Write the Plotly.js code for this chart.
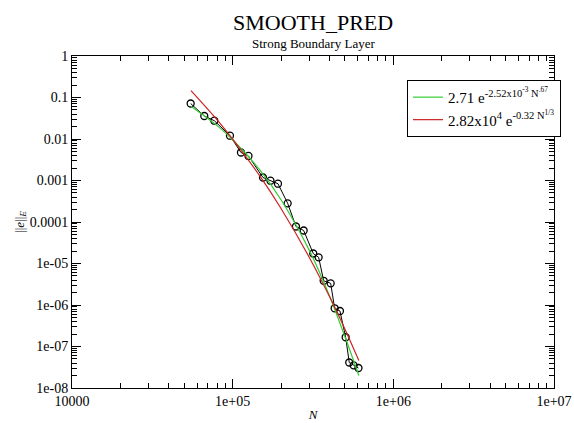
<!DOCTYPE html>
<html>
<head>
<meta charset="utf-8">
<script src="https://cdn.plot.ly/plotly-3.0.1.min.js"></script>
<style>html,body{margin:0;padding:0;background:#fff;}#chart{width:574px;height:423px;}</style>
</head>
<body>
<div id="chart"></div>
<script>
// Data
var dataN = [54780, 66580, 76850, 96200, 112600, 125400, 154400, 171900, 191400, 219900,
             247700, 276600, 317300, 342800, 368400, 407300, 431200, 465300, 505000, 531600,
             566200, 606600];
var dataErr = [0.0717, 0.0358, 0.0276, 0.0120, 0.00473, 0.00390, 0.00118, 0.000989, 0.000837, 0.000282,
               7.79e-5, 6.24e-5, 1.74e-5, 1.41e-5, 3.83e-6, 3.33e-6, 8.33e-7, 7.17e-7, 1.67e-7, 4.12e-8,
               3.52e-8, 3.03e-8];

// Fit curves, values
var fitN = [55000, 80000, 100000, 150000, 200000, 300000, 400000, 500000, 610000];
var greenFit = [0.0618, 0.0210, 0.00961, 1.66e-3, 3.43e-4, 2.07e-5, 1.68e-6, 1.71e-7, 2.0e-8];
var redFit = [0.146, 0.0289, 0.00996, 1.17e-3, 2.11e-4, 1.40e-5, 1.62e-6, 2.62e-7, 4.6e-8];

var greenName = "2.71 e<sup>-2.52x10<sup>-3</sup> N<sup>.67</sup></sup>";
var redName = "2.82x10<sup>4</sup> e<sup>-0.32 N<sup>1/3</sup></sup>";

var titleText = "SMOOTH_PRED";
var subtitleText = "Strong Boundary Layer";

// Tick labels
var xTickVals = [10000, 100000, 1000000, 10000000];
var xTickText = ["10000", "1e+05", "1e+06", "1e+07"];
var yTickVals = [1, 0.1, 0.01, 0.001, 0.0001, 1e-5, 1e-6, 1e-7, 1e-8];
var yTickText = ["1", "0.1", "0.01", "0.001", "0.0001", "1e-05", "1e-06", "1e-07", "1e-08"];

// minor tick positions (2..9 in each decade)
function minorVals(lo, hi) {
  var v = [];
  for (var e = lo; e < hi; e++) for (var m = 2; m <= 9; m++) v.push(m * Math.pow(10, e));
  return v;
}
var xMinor = minorVals(4, 7);
var yMinor = minorVals(-8, 0);

var serif = "'Liberation Serif', 'DejaVu Serif', serif";

var traces = [
  {x: dataN, y: dataErr, mode: "lines+markers", showlegend: false,
   line: {color: "#000", width: 1},
   marker: {symbol: "circle-open", size: 7, color: "#000", line: {width: 1.3, color: "#000"}}},
  {x: fitN, y: greenFit, mode: "lines", name: greenName,
   line: {color: "#33cc33", width: 1.2, shape: "spline"}},
  {x: fitN, y: redFit, mode: "lines", name: redName,
   line: {color: "#cc2222", width: 1.2, shape: "spline"}},
  {x: [dataN[0]], y: [dataErr[0]], xaxis: "x2", yaxis: "y2", mode: "markers",
   marker: {opacity: 0}, showlegend: false, hoverinfo: "skip"}
];

var axisCommon = {
  type: "log", showline: true, linecolor: "#000", linewidth: 1, mirror: "ticks",
  ticks: "inside", ticklen: 9, tickwidth: 1, tickcolor: "#000",
  showgrid: false, zeroline: false,
  tickfont: {family: serif, size: 14, color: "#000"}
};
var minorCommon = {
  type: "log", showline: false, mirror: "ticks", ticks: "inside", ticklen: 5, tickwidth: 1,
  tickcolor: "#000", showgrid: false, zeroline: false, showticklabels: false, tickmode: "array"
};

var layout = {
  width: 574, height: 423,
  paper_bgcolor: "#fff", plot_bgcolor: "#fff",
  font: {family: serif, color: "#000"},
  margin: {l: 72, r: 20, t: 56, b: 35},
  xaxis: Object.assign({}, axisCommon, {
    range: [4, 7], tickmode: "array", tickvals: xTickVals, ticktext: xTickText,
    title: {text: "<i>N</i>", font: {family: serif, size: 13, color: "#000"}, standoff: 2}
  }),
  yaxis: Object.assign({}, axisCommon, {
    range: [-8, 0], tickmode: "array", tickvals: yTickVals, ticktext: yTickText,
    title: {text: "||<i>e</i>||<sub><i>E</i></sub>", font: {family: serif, size: 13, color: "#000"}, standoff: 2}
  }),
  xaxis2: Object.assign({}, minorCommon, {overlaying: "x", range: [4, 7], tickvals: xMinor, anchor: "y2"}),
  yaxis2: Object.assign({}, minorCommon, {overlaying: "y", range: [-8, 0], tickvals: yMinor, anchor: "x2"}),
  legend: {x: 0.695, y: 0.928, xanchor: "left", yanchor: "top",
           bgcolor: "#fff", bordercolor: "#000", borderwidth: 1,
           font: {family: serif, size: 15, color: "#000"}},
  annotations: [
    {text: titleText, xref: "paper", yref: "paper", x: 0.5, y: 1.102, xanchor: "center", yanchor: "middle",
     showarrow: false, font: {family: serif, size: 22, color: "#000"}},
    {text: subtitleText, xref: "paper", yref: "paper", x: 0.5, y: 1.039, xanchor: "center", yanchor: "middle",
     showarrow: false, font: {family: serif, size: 13, color: "#000"}}
  ],
  showlegend: true
};

Plotly.newPlot("chart", traces, layout, {displayModeBar: false, staticPlot: true});
</script>
</body>
</html>
